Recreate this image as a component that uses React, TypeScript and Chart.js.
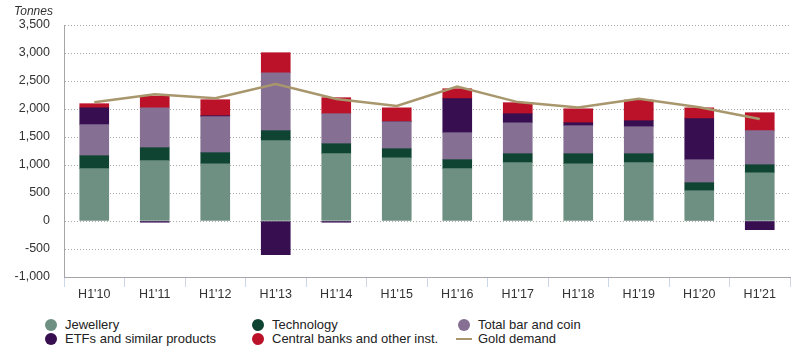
import React, { useEffect, useRef } from "react";
import { Chart, registerables } from "chart.js";

Chart.register(...registerables);

const categories = ["H1'10", "H1'11", "H1'12", "H1'13", "H1'14", "H1'15", "H1'16", "H1'17", "H1'18", "H1'19", "H1'20", "H1'21"];
const jewellery = [934, 1077, 1023, 1434, 1202, 1130, 934, 1041, 1023, 1041, 541, 862];
const technology = [232, 232, 197, 179, 178, 161, 161, 161, 179, 161, 143, 143];
const barAndCoin = [554, 712, 643, 1035, 536, 482, 482, 553, 500, 482, 411, 608];
const etfs = [301, -22, 17, -602, -22, 0, 607, 161, 53, 107, 732, -155];
const centralBanks = [74, 210, 286, 357, 286, 248, 178, 197, 249, 369, 194, 321];
const goldDemand = [2120, 2262, 2192, 2446, 2180, 2055, 2402, 2123, 2027, 2185, 2032, 1822];

const yTicks = [-1000, -500, 0, 500, 1000, 1500, 2000, 2500, 3000, 3500];

const FONT = "'Liberation Sans', Arial, sans-serif";

const barSeries = [
  { label: "Jewellery", data: jewellery, color: "#6e9082" },
  { label: "Technology", data: technology, color: "#0f4433" },
  { label: "Total bar and coin", data: barAndCoin, color: "#856f93" },
  { label: "ETFs and similar products", data: etfs, color: "#370f51" },
  { label: "Central banks and other inst.", data: centralBanks, color: "#bb1229" },
];
const lineSeries = { label: "Gold demand", data: goldDemand, color: "#a8966c" };

const legendOrder = [
  { label: "Jewellery", color: "#6e9082", type: "circle" },
  { label: "Technology", color: "#0f4433", type: "circle" },
  { label: "Total bar and coin", color: "#856f93", type: "circle" },
  { label: "ETFs and similar products", color: "#370f51", type: "circle" },
  { label: "Central banks and other inst.", color: "#bb1229", type: "circle" },
  { label: "Gold demand", color: "#a8966c", type: "line" },
];

const colX = [51, 258, 464];
const rowY = [325, 339];

export default function App() {
  const ref = useRef<HTMLCanvasElement | null>(null);

  useEffect(() => {
    if (!ref.current) return;
    Chart.defaults.font.family = FONT;
    const chart = new Chart(ref.current, {
      type: "bar",
      data: {
        labels: categories,
        datasets: [
          ...barSeries.map((s) => ({
            type: "bar" as const,
            label: s.label,
            data: s.data,
            backgroundColor: s.color,
            borderWidth: 0,
            barThickness: 29,
            stack: "bars",
            order: 1,
          })),
          {
            type: "line" as const,
            label: lineSeries.label,
            data: lineSeries.data,
            borderColor: lineSeries.color,
            borderWidth: 2.5,
            pointRadius: 0,
            tension: 0,
            fill: false,
            stack: "line",
            order: 0,
          },
        ] as any,
      },
      options: {
        responsive: false,
        animation: false,
        devicePixelRatio: 1,
        layout: { padding: { left: 0, right: 16, top: 25, bottom: 0 } },
        plugins: { legend: { display: false }, tooltip: { enabled: false } },
        scales: {
          x: {
            stacked: true,
            afterFit: (scale: any) => {
              scale.height = 23;
            },
            grid: {
              offset: true,
              drawOnChartArea: false,
              drawTicks: true,
              tickLength: 10,
              color: "#ccd6eb",
            },
            border: { display: true, color: "#a6a6a6", width: 1 },
            ticks: { color: "#333333", font: { size: 12.5, family: FONT }, padding: 0 },
          },
          y: {
            stacked: true,
            min: -1000,
            max: 3500,
            afterFit: (scale: any) => {
              scale.width = 64;
            },
            afterBuildTicks: (scale: any) => {
              scale.ticks = yTicks.map((v) => ({ value: v }));
            },
            grid: { color: "#a8a8a8", drawTicks: false, lineWidth: 1 },
            border: { display: true, color: "#a6a6a6", width: 1, dash: [1, 2] },
            ticks: {
              color: "#333333",
              font: { size: 12.5, family: FONT },
              padding: 14,
              callback: (v: any) => Number(v).toLocaleString("en-US"),
            },
          },
        },
      },
    });
    return () => chart.destroy();
  }, []);

  return (
    <div style={{ position: "absolute", left: 0, top: 0, width: 806, height: 355, background: "#fff", fontFamily: FONT }}>
      <canvas ref={ref} width={806} height={300} style={{ position: "absolute", left: 0, top: 0 }} />
      <div
        style={{
          position: "absolute",
          left: 14,
          top: 4,
          fontSize: 12,
          fontStyle: "italic",
          color: "#333333",
          lineHeight: "14px",
        }}
      >
        Tonnes
      </div>
      {legendOrder.map((item, i) => {
        const cx = colX[i % 3];
        const cy = rowY[Math.floor(i / 3)];
        return (
          <div key={item.label}>
            {item.type === "circle" ? (
              <div
                style={{
                  position: "absolute",
                  left: cx - 6,
                  top: cy - 6,
                  width: 12,
                  height: 12,
                  borderRadius: "50%",
                  background: item.color,
                }}
              />
            ) : (
              <div
                style={{
                  position: "absolute",
                  left: cx - 8,
                  top: cy - 1,
                  width: 16,
                  height: 2,
                  background: item.color,
                }}
              />
            )}
            <div
              style={{
                position: "absolute",
                left: cx + 14,
                top: cy - 8,
                fontSize: 13,
                lineHeight: "16px",
                color: "#222222",
                whiteSpace: "nowrap",
              }}
            >
              {item.label}
            </div>
          </div>
        );
      })}
    </div>
  );
}
